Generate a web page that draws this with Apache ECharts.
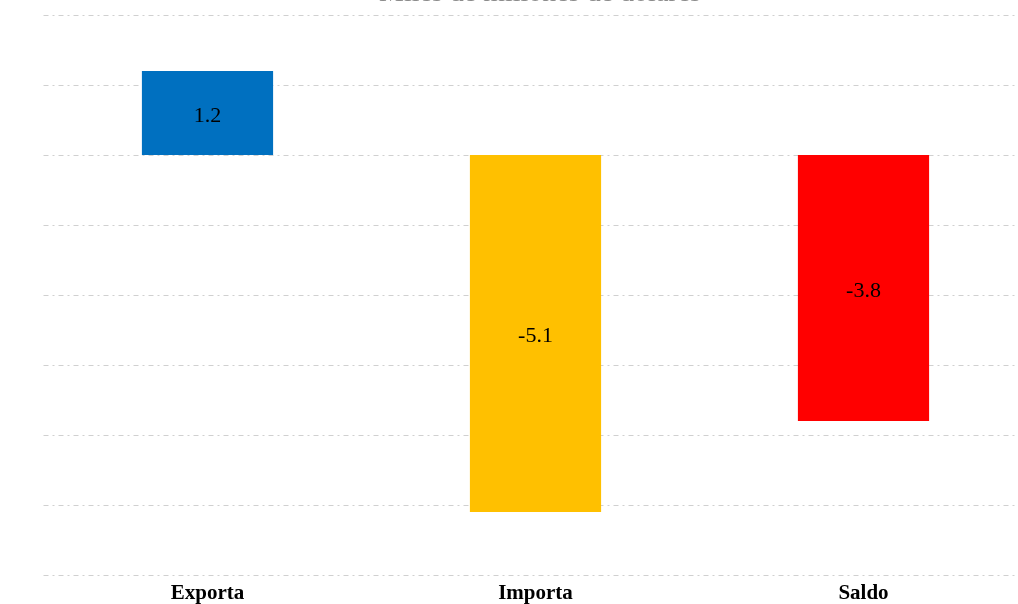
<!DOCTYPE html>
<html>
<head>
<meta charset="utf-8">
<script src="https://cdn.jsdelivr.net/npm/echarts@6/dist/echarts.min.js"></script>
<style>
  html, body { margin: 0; padding: 0; background: #ffffff; }
  #chart { width: 1018px; height: 604px; }
</style>
</head>
<body>
<div id="chart"></div>
<script>
// Balanza comercial: variación en miles de millones de dólares
const categories = ['Exporta', 'Importa', 'Saldo'];
const values = [1.2, -5.1, -3.8];
const barColors = ['#0070C0', '#FFC000', '#FF0000'];
const titleText = 'Miles de millones de dólares';

const chart = echarts.init(document.getElementById('chart'));

chart.setOption({
  backgroundColor: '#ffffff',
  animation: false,
  graphic: [{
    type: 'text',
    x: 540,
    y: 7.5,
    silent: true,
    style: {
      text: titleText,
      align: 'center',
      verticalAlign: 'bottom',
      font: '28px "Liberation Serif", "Times New Roman", serif',
      fill: '#8c8c8c'
    }
  }],
  grid: {
    left: 43.5,
    width: 984,
    top: 15,
    bottom: 29,
    containLabel: false,
    outerBoundsMode: 'none'
  },
  xAxis: {
    type: 'category',
    data: categories,
    position: 'bottom',
    axisLine: { show: false },
    axisTick: { show: false },
    axisLabel: {
      margin: 8,
      fontFamily: 'Liberation Serif, Times New Roman, serif',
      fontSize: 21,
      fontWeight: 'bold',
      color: '#000000'
    }
  },
  yAxis: {
    type: 'value',
    min: -6,
    max: 2,
    interval: 1,
    axisLine: { show: false },
    axisTick: { show: false },
    axisLabel: { show: false },
    splitLine: {
      show: true,
      lineStyle: {
        color: '#d0d0d0',
        width: 1,
        type: [5, 4, 2, 4]
      }
    }
  },
  series: [{
    type: 'bar',
    barWidth: '40%',
    data: values.map((v, i) => ({ value: v, itemStyle: { color: barColors[i] } })),
    label: {
      show: true,
      position: 'inside',
      offset: [0, 3],
      formatter: (p) => p.value.toFixed(1),
      fontFamily: 'Liberation Serif, Times New Roman, serif',
      fontSize: 22,
      color: '#000000'
    }
  }]
});
</script>
</body>
</html>
